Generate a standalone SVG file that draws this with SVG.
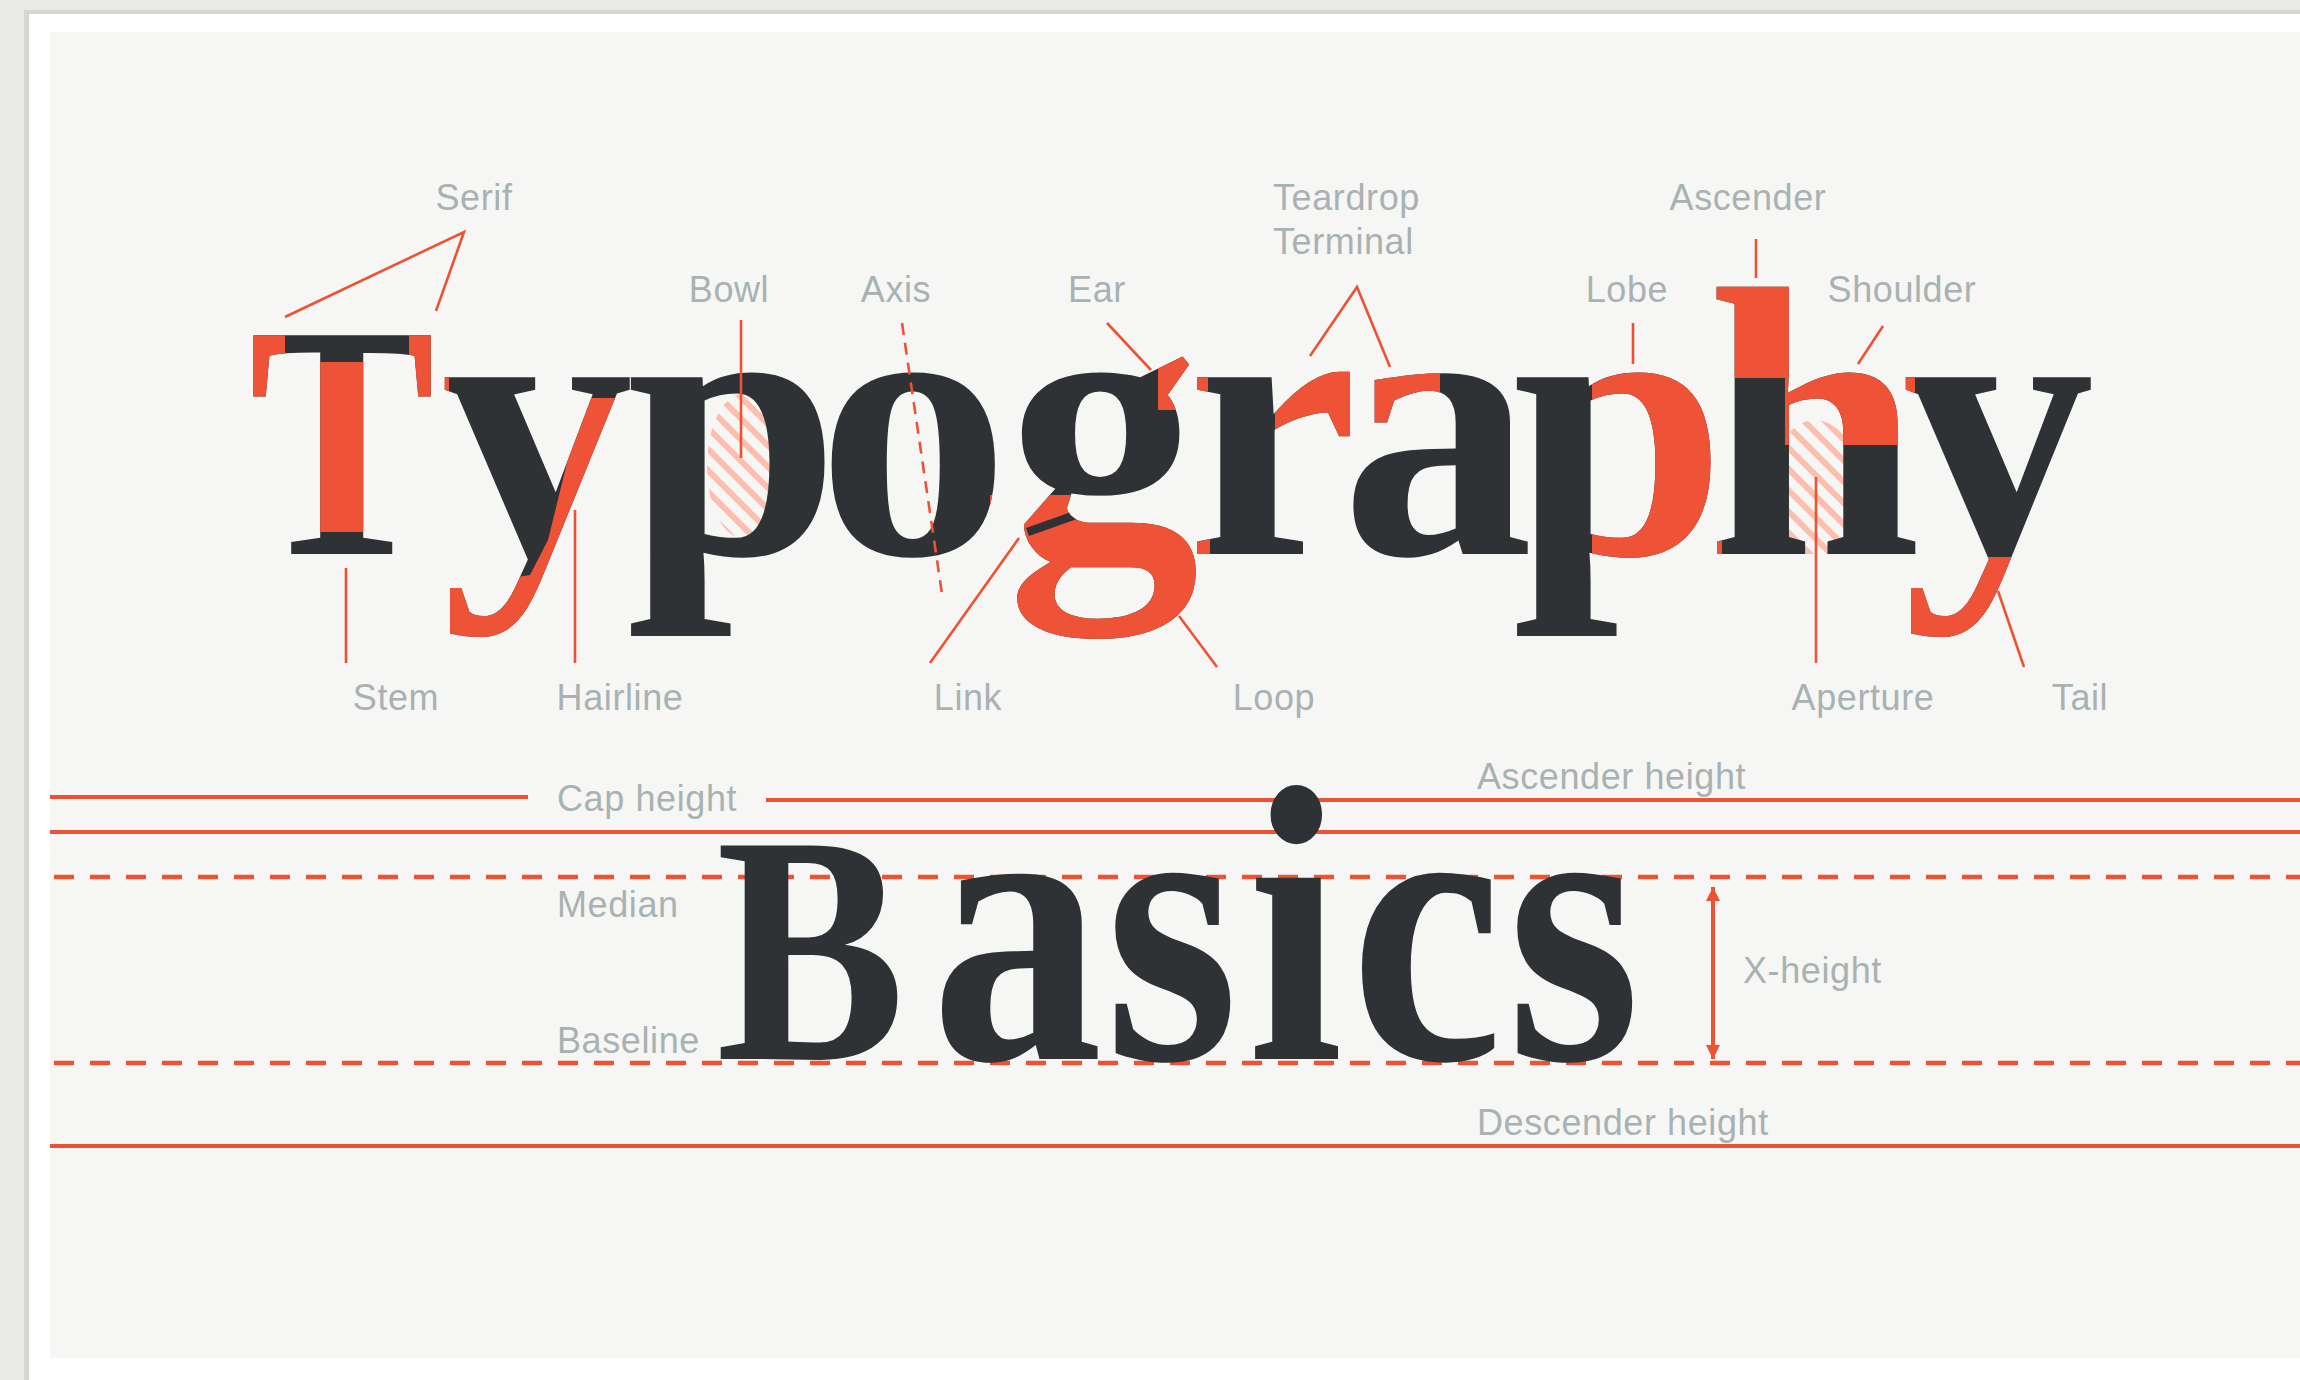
<svg xmlns="http://www.w3.org/2000/svg" width="2300" height="1380" viewBox="0 0 2300 1380">
<defs>
<style>
.lbl{font-family:"Liberation Sans",Arial,sans-serif;font-size:36px;fill:#a9b2b2;letter-spacing:0.6px}
.ldr{stroke:#ee5235;stroke-width:2.6;fill:none}
.guide{stroke:#ee5235;stroke-width:4;fill:none}
.dash{stroke-dasharray:20 16;stroke-width:4.5}
.serif{font-family:"Liberation Serif","Times New Roman",serif;font-weight:bold}
</style>
<pattern id="hatch" width="15" height="15" patternUnits="userSpaceOnUse" patternTransform="rotate(-45)">
<rect width="6" height="15" fill="#fcbfad"/>
</pattern>
<marker id="ah" viewBox="0 0 10 10" refX="10" refY="5" markerWidth="16" markerHeight="14" markerUnits="userSpaceOnUse" orient="auto-start-reverse">
<path d="M0,0 L10,5 L0,10 z" fill="#ee5235"/>
</marker>
<clipPath id="redTypo">
<rect x="248" y="320" width="37" height="90"/>
<rect x="409" y="320" width="40" height="90"/>
<rect x="300" y="362" width="100" height="170"/>
<polygon points="583,398 628,398 628,560 612,665 430,665 430,590 530,575 548,540"/>
<rect x="990" y="495" width="220" height="150"/>
<rect x="1158" y="355" width="50" height="55"/>
<rect x="1275" y="355" width="90" height="115"/>
<rect x="1340" y="355" width="100" height="90"/>
<rect x="1592" y="350" width="130" height="230"/>
<rect x="1690" y="270" width="110" height="108"/>
<rect x="1785" y="370" width="130" height="75"/>
<rect x="1880" y="557" width="220" height="100"/>
</clipPath>
<clipPath id="linkBar">
<polygon points="1026,528 1074,511 1077,519 1029,536"/>
</clipPath>
</defs>

<g id="background">
<rect width="2300" height="1380" fill="#e9e9e5"/>
<rect x="24" y="10" width="2290" height="1380" fill="#d6d6d2"/>
<rect x="29" y="14" width="2280" height="1380" fill="#ffffff"/>
<rect x="50" y="32" width="2260" height="1326" fill="#f6f7f5"/>
</g>

<g id="hatching">
<ellipse cx="743" cy="466" rx="36" ry="72" fill="url(#hatch)"/>
<path d="M1782,554 L1782,440 Q1815,400 1848,440 L1848,554 Z" fill="url(#hatch)"/>
</g>

<g id="word-typography" fill="#2e3234">
<text id="typo" class="serif" y="554" font-size="385"><tspan x="249" font-size="334" textLength="186" lengthAdjust="spacingAndGlyphs">T</tspan><tspan x="441 626 817 1007 1187 1341 1512 1707 1902">ypography</tspan></text>
</g>
<use id="typo-red" href="#typo" fill="#ee5337" clip-path="url(#redTypo)"/>
<use id="typo-link" href="#typo" fill="#2e3234" clip-path="url(#linkBar)"/>

<g id="guides">
<line class="guide" x1="50" y1="797" x2="528" y2="797"/>
<line class="guide" x1="766" y1="800" x2="2300" y2="800"/>
<line class="guide" x1="50" y1="832" x2="2300" y2="832"/>
<line class="guide dash" x1="54" y1="877" x2="2300" y2="877"/>
<line class="guide dash" x1="54" y1="1063" x2="2300" y2="1063"/>
<line class="guide" x1="50" y1="1146" x2="2300" y2="1146"/>
<line class="guide" stroke-width="3.5" x1="1713" y1="887" x2="1713" y2="1059" marker-start="url(#ah)" marker-end="url(#ah)"/>
</g>

<g id="word-basics">
<text class="serif" transform="scale(0.87,1)" y="1059" font-size="395" fill="#2e3234"><tspan x="823" font-size="326">B</tspan><tspan x="1070 1270 1434 1552 1732">asics</tspan></text>
</g>

<g id="connectors">
<polyline class="ldr" points="285,317 464,232 436,311"/>
<line class="ldr" x1="741" y1="320" x2="741" y2="458"/>
<line class="ldr" x1="902" y1="323" x2="942" y2="594" stroke-dasharray="12 8"/>
<line class="ldr" x1="1107" y1="323" x2="1151" y2="370"/>
<polyline class="ldr" points="1310,356 1357,287 1390,367"/>
<line class="ldr" x1="1756" y1="239" x2="1756" y2="278"/>
<line class="ldr" x1="1633" y1="323" x2="1633" y2="364"/>
<line class="ldr" x1="1883" y1="326" x2="1858" y2="364"/>
<line class="ldr" x1="346" y1="568" x2="346" y2="663"/>
<line class="ldr" x1="575" y1="510" x2="575" y2="663"/>
<line class="ldr" x1="1019" y1="538" x2="930" y2="663"/>
<line class="ldr" x1="1179" y1="616" x2="1217" y2="667"/>
<line class="ldr" x1="1816" y1="477" x2="1816" y2="663"/>
<line class="ldr" x1="1998" y1="591" x2="2024" y2="667"/>
</g>

<g id="labels">
<text class="lbl" x="474" y="210" text-anchor="middle">Serif</text>
<text class="lbl" x="729" y="302" text-anchor="middle">Bowl</text>
<text class="lbl" x="896" y="302" text-anchor="middle">Axis</text>
<text class="lbl" x="1097" y="302" text-anchor="middle">Ear</text>
<text class="lbl" x="1273" y="210">Teardrop</text>
<text class="lbl" x="1273" y="254">Terminal</text>
<text class="lbl" x="1748" y="210" text-anchor="middle">Ascender</text>
<text class="lbl" x="1627" y="302" text-anchor="middle">Lobe</text>
<text class="lbl" x="1902" y="302" text-anchor="middle">Shoulder</text>
<text class="lbl" x="396" y="710" text-anchor="middle">Stem</text>
<text class="lbl" x="620" y="710" text-anchor="middle">Hairline</text>
<text class="lbl" x="968" y="710" text-anchor="middle">Link</text>
<text class="lbl" x="1274" y="710" text-anchor="middle">Loop</text>
<text class="lbl" x="1863" y="710" text-anchor="middle">Aperture</text>
<text class="lbl" x="2080" y="710" text-anchor="middle">Tail</text>
<text class="lbl" x="557" y="811">Cap height</text>
<text class="lbl" x="1477" y="789">Ascender height</text>
<text class="lbl" x="557" y="917">Median</text>
<text class="lbl" x="557" y="1053">Baseline</text>
<text class="lbl" x="1743" y="983">X-height</text>
<text class="lbl" x="1477" y="1135">Descender height</text>
</g>
</svg>
